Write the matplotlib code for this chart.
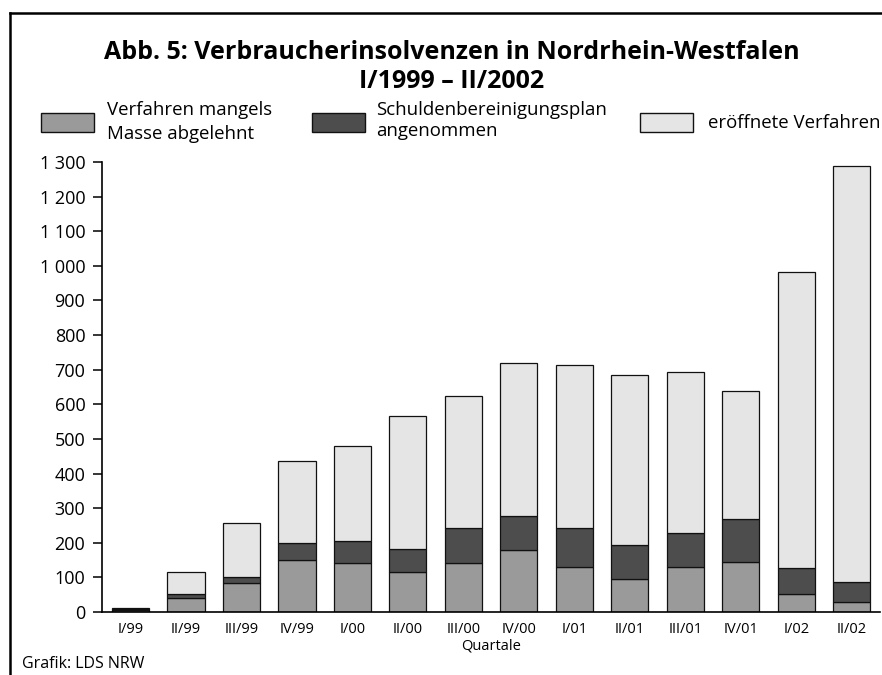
import matplotlib.pyplot as plt
import numpy as np
from matplotlib.lines import Line2D
from matplotlib.patches import Rectangle
from matplotlib.ticker import FuncFormatter

plt.rcParams["font.family"] = ["Open Sans", "DejaVu Sans"]

quarters = ["I/99", "II/99", "III/99", "IV/99", "I/00", "II/00", "III/00",
            "IV/00", "I/01", "II/01", "III/01", "IV/01", "I/02", "II/02"]
abgelehnt = [7, 41, 83, 149, 141, 115, 142, 178, 129, 96, 129, 145, 51, 28]
schuldenplan = [1, 10, 18, 50, 63, 66, 102, 100, 114, 97, 98, 125, 77, 60]
eroeffnet = [3, 65, 155, 237, 275, 385, 380, 440, 470, 491, 465, 368, 853, 1201]

series_labels = ["Verfahren mangels\nMasse abgelehnt",
                 "Schuldenbereinigungsplan\nangenommen",
                 "eröffnete Verfahren"]
title_lines = ["Abb. 5: Verbraucherinsolvenzen in Nordrhein-Westfalen",
               "I/1999 – II/2002"]
colors = ["#9a9a9a", "#4d4d4d", "#e5e5e5"]

W, H = 882, 675


def fx(px):
    return px / W


def fy(py):
    return 1 - py / H


fig = plt.figure(figsize=(8.82, 6.75), dpi=100)
ax = fig.add_axes([fx(102), fy(612), fx(778), 450 / H])

x = np.arange(len(quarters))
bottom = np.zeros(len(quarters))
for values, color in zip([abgelehnt, schuldenplan, eroeffnet], colors):
    ax.bar(x, values, width=0.667, bottom=bottom, color=color,
           edgecolor="#111111", linewidth=0.9)
    bottom += np.array(values)

ax.set_xlim(-0.5135, 13.505)
ax.set_ylim(0, 1300)
ax.set_yticks(np.arange(0, 1301, 100))
ax.yaxis.set_major_formatter(FuncFormatter(lambda v, _: f"{v:,.0f}".replace(",", " ")))
ax.set_xticks(x)
ax.set_xticklabels(quarters)
ax.tick_params(axis="y", length=6.5, width=1.1, labelsize=13, pad=5.5)
ax.tick_params(axis="x", length=0, labelsize=10.5, pad=7)
for side in ["top", "right"]:
    ax.spines[side].set_visible(False)
for side in ["left", "bottom"]:
    ax.spines[side].set_linewidth(1.2)
ax.set_xlabel("Quartale", fontsize=10.5, labelpad=1)

# title, one text per line
for line, base in zip(title_lines, [59, 88]):
    fig.text(fx(451.5), fy(base), line, ha="center", va="baseline",
             fontsize=18, fontweight="bold")

# legend drawn by hand
legend_pos = [(41, 107, [115, 139]), (312, 376, [115, 136]), (640, 708, [128])]
for (px, tx, bases), label, color in zip(legend_pos, series_labels, colors):
    fig.add_artist(Rectangle((fx(px), fy(132)), 53 / W, 19 / H,
                             transform=fig.transFigure, facecolor=color,
                             edgecolor="#111111", linewidth=1.0))
    for line, base in zip(label.split("\n"), bases):
        fig.text(fx(tx), fy(base), line, ha="left", va="baseline", fontsize=13.4)

fig.text(fx(22), fy(668), "Grafik: LDS NRW", ha="left", va="baseline", fontsize=11.5)

# frame
fig.add_artist(Line2D([fx(10), 1], [fy(13), fy(13)],
                      transform=fig.transFigure, color="black", linewidth=1.8))
fig.add_artist(Line2D([fx(10), fx(10)], [0, fy(13)],
                      transform=fig.transFigure, color="black", linewidth=1.8))

fig.savefig("out.png", dpi=100)
